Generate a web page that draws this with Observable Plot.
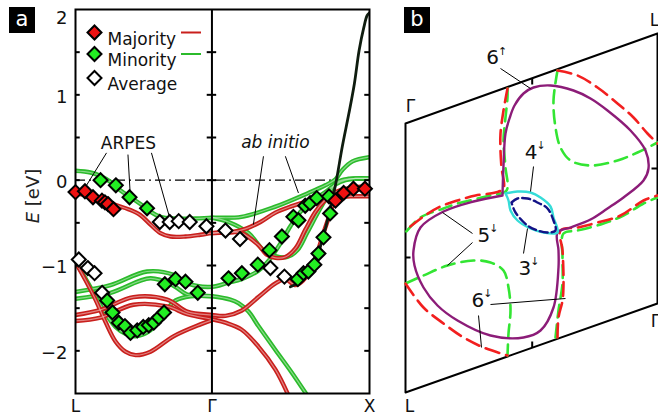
<!DOCTYPE html>
<html><head><meta charset="utf-8">
<script src="https://cdn.jsdelivr.net/npm/d3@7"></script>
<script src="https://cdn.jsdelivr.net/npm/@observablehq/plot@0.6"></script>
<style>
html,body{margin:0;padding:0;background:#fff;overflow:hidden}
#wrap{position:relative;width:658px;height:412px;overflow:hidden;font-family:"DejaVu Sans",sans-serif}
#pa,#pb{position:absolute;top:0}
#pa{left:0}
#pb{left:390px}
.tag{position:absolute;background:#000;color:#fff;font-size:21px;line-height:25px;width:26px;height:26px;text-align:center}
#ylab{position:absolute;left:32px;top:196px;transform:translate(-50%,-50%) rotate(-90deg);font-size:18px;white-space:nowrap;color:#222}
</style></head>
<body><div id="wrap"><div id="pa"></div><div id="pb"></div>
<div class="tag" style="left:9px;top:7px">a</div>
<div class="tag" style="left:404px;top:7px">b</div>
<div id="ylab"><i>E</i> [eV]</div>
</div>
<script>
// ---------- panel a : band structure ----------
const kTicks = [0, 0.866, 1.866];
const kTickLabels = ["L", "Γ", "X"];
const kGamma = 0.866;
const energyTicks = [-2, -1, 0, 1];
const energyTopTick = [2];
const energyMinorTicks = [-2, -1.5, -1, -0.5, 0, 0.5, 1, 1.5];

const majorityBand1 = [[0,-0.15],[0.095,-0.19],[0.222,-0.27],[0.349,-0.35],[0.412,-0.41],[0.476,-0.52],[0.539,-0.62],[0.603,-0.66],[0.698,-0.66],[0.793,-0.64],[0.866,-0.62],[0.983,-0.61],[1.079,-0.57],[1.174,-0.49],[1.269,-0.38],[1.364,-0.31],[1.491,-0.24],[1.618,-0.20],[1.745,-0.19],[1.866,-0.19]];
const majorityBand2 = [[0.866,-0.62],[0.983,-0.61],[1.053,-0.62],[1.161,-0.76],[1.212,-0.87],[1.269,-0.91],[1.332,-0.90],[1.396,-0.80],[1.459,-0.58],[1.523,-0.37],[1.586,-0.23],[1.650,-0.14],[1.745,-0.09],[1.866,-0.07]];
const majorityBand3 = [[0,-1.58],[0.159,-1.52],[0.368,-1.37],[0.582,-1.40],[0.709,-1.54],[0.866,-1.58],[0.952,-1.59],[1.053,-1.53],[1.161,-1.37],[1.269,-1.21],[1.332,-1.16],[1.396,-1.23],[1.447,-1.17],[1.491,-1.05],[1.530,-0.88],[1.567,-0.66],[1.605,-0.45],[1.643,-0.25],[1.694,-0.14],[1.770,-0.11],[1.866,-0.10]];
const majorityBand4 = [[0,-1.65],[0.159,-1.61],[0.368,-1.46],[0.582,-1.48],[0.709,-1.57],[0.866,-1.63],[0.952,-1.67],[1.053,-1.75],[1.161,-1.95],[1.269,-2.22],[1.351,-2.52]];
const majorityBand5 = [[0,-0.96],[0.063,-1.17],[0.127,-1.40],[0.190,-1.66],[0.254,-1.89],[0.317,-2.01],[0.381,-2.05],[0.476,-2.01],[0.622,-1.83],[0.793,-1.69],[0.866,-1.64]];

const minorityBand1 = [[0,0.11],[0.095,0.09],[0.159,0.05],[0.222,-0.02],[0.286,-0.12],[0.349,-0.20],[0.412,-0.28],[0.476,-0.37],[0.539,-0.43],[0.635,-0.45],[0.761,-0.45],[0.866,-0.44],[1.053,-0.43],[1.269,-0.31],[1.478,-0.15],[1.586,-0.06],[1.650,0.01],[1.694,0.12],[1.758,0.22],[1.866,0.27]];
const minorityBand2 = [[0.866,-0.44],[0.971,-0.49],[1.098,-0.62],[1.193,-0.82],[1.269,-0.89],[1.345,-0.90],[1.409,-0.82],[1.472,-0.61],[1.542,-0.37],[1.605,-0.17],[1.656,-0.03],[1.713,0.01],[1.777,0.02],[1.866,0.02]];
const minorityBand3 = [[0,-1.31],[0.222,-1.23],[0.454,-1.07],[0.624,-1.11],[0.709,-1.21],[0.866,-1.25],[0.971,-1.20],[1.053,-1.16],[1.161,-1.06],[1.231,-0.93],[1.301,-0.74],[1.364,-0.54],[1.428,-0.37],[1.504,-0.24],[1.586,-0.14],[1.650,-0.05],[1.713,0.00],[1.777,0.02],[1.866,0.02]];
const minorityBand4 = [[0,-1.39],[0.222,-1.32],[0.476,-1.15],[0.624,-1.24],[0.709,-1.34],[0.866,-1.36],[0.983,-1.40],[1.034,-1.44],[1.098,-1.54],[1.161,-1.71],[1.269,-1.99],[1.371,-2.25],[1.470,-2.52]];
const minorityBand5 = [[0,-0.96],[0.063,-1.15],[0.127,-1.36],[0.190,-1.56],[0.254,-1.72],[0.317,-1.80],[0.381,-1.83],[0.476,-1.76],[0.558,-1.57],[0.635,-1.41],[0.730,-1.36],[0.866,-1.36]];

const spBand = [[1.364,-1.25],[1.415,-1.20],[1.459,-1.12],[1.504,-0.99],[1.542,-0.84],[1.580,-0.61],[1.612,-0.37],[1.637,-0.17],[1.656,0.00],[1.694,0.40],[1.735,0.78],[1.770,1.13],[1.800,1.52],[1.830,1.79],[1.851,1.93],[1.866,1.96]];

const majorityPoints = [[0,-0.14],[0.060,-0.13],[0.111,-0.20],[0.168,-0.24],[0.187,-0.26],[0.206,-0.28],[0.241,-0.34],[1.650,-0.24],[1.702,-0.15],[1.764,-0.10],[1.837,-0.10]];
const minorityPoints = [[0.159,0.00],[0.256,-0.06],[0.343,-0.20],[0.454,-0.33],
  [0.201,-1.41],[0.235,-1.55],[0.275,-1.67],[0.314,-1.71],[0.349,-1.79],[0.392,-1.76],[0.430,-1.72],[0.465,-1.70],[0.497,-1.67],[0.529,-1.61],[0.562,-1.55],
  [0.567,-1.22],[0.635,-1.16],[0.698,-1.19],[0.776,-1.32],
  [0.971,-1.15],[1.056,-1.09],[1.157,-0.99],[1.231,-0.82],[1.310,-0.66],[1.383,-0.43],[1.415,-0.47],[1.458,-0.30],[1.489,-0.27],[1.531,-0.21],[1.609,-0.19],
  [1.411,-1.16],[1.447,-1.09],[1.478,-1.07],[1.516,-0.99],[1.542,-0.86],[1.574,-0.67],[1.616,-0.39]];
const averagePoints = [[0.021,-0.93],[0.078,-1.03],[0.121,-1.09],[0.169,-1.32],[0.535,-0.49],[0.598,-0.49],[0.655,-0.48],[0.725,-0.49],[0.831,-0.54],[0.952,-0.59],[1.044,-0.69],[1.237,-1.03],[1.326,-1.13]];

const legendLabels = ["Majority", "Minority", "Average"];

const arpesLabel = [{k: 0.336, E: 0.43, text: "ARPES"}];
const arpesLeaders = [[0.197,0.32,0.070,-0.06],[0.333,0.30,0.346,-0.12],[0.482,0.32,0.596,-0.43]];
const abInitioLabel = [{k: 1.269, E: 0.44, text: "ab initio"}];
const abInitioLeaders = [[1.193,0.28,1.129,-0.52],[1.332,0.28,1.415,-0.15]];

// ---------- panel b : Fermi surface cut ----------
const sheetFrame = [[0,0],[2.52,0.90],[2.52,-1.80],[0,-2.69],[0,0]];
const sheetTicks = [[1.267,0.45,1.267,0.39],[1.267,-2.24,1.267,-2.18],[0,-1.34,0.05,-1.34],[2.52,-0.45,2.46,-0.45]];
const majorityDashed = [
  [[1.02,0.35],[0.98,0.13],[0.95,-0.10],[0.95,-0.27],[0.96,-0.44],[0.98,-0.65],[0.90,-0.69],[0.70,-0.72],[0.52,-0.77],[0.35,-0.83],[0.18,-0.93],[0,-1.07]],
  [[1.52,0.53],[1.72,0.48],[1.92,0.36],[2.12,0.20],[2.28,0.06],[2.42,-0.10],[2.52,-0.20]],
  [[0,-1.60],[0.18,-1.84],[0.38,-2.00],[0.58,-2.14],[0.78,-2.24],[1.02,-2.32]],
  [[1.52,-2.14],[1.53,-1.94],[1.57,-1.77],[1.58,-1.60],[1.57,-1.27],[1.55,-1.07],[1.72,-1.04],[1.92,-0.99],[2.15,-0.92],[2.38,-0.77],[2.52,-0.72]]
];
const minorityDashed = [
  [[1.02,0.35],[1.02,0.26],[1.00,0.06],[0.98,-0.17],[1.00,-0.44],[1.01,-0.67],[0.85,-0.72],[0.52,-0.80],[0.38,-0.85],[0.15,-0.94],[0,-1.09]],
  [[1.52,0.53],[1.48,0.23],[1.50,-0.04],[1.55,-0.24],[1.65,-0.37],[1.85,-0.42],[2.12,-0.37],[2.32,-0.29],[2.52,-0.19]],
  [[0,-1.60],[0.18,-1.52],[0.42,-1.42],[0.68,-1.37],[0.85,-1.39],[0.98,-1.47],[1.03,-1.64],[1.05,-1.87],[1.03,-2.10],[1.02,-2.32]],
  [[1.50,-2.14],[1.53,-1.87],[1.57,-1.60],[1.57,-1.34],[1.58,-1.10],[1.72,-1.07],[1.98,-1.00],[2.18,-0.92],[2.38,-0.80],[2.52,-0.74]]
];
const sheet6 = [[0.97,-0.72],[0.98,-0.42],[1.00,-0.10],[1.04,0.05],[1.09,0.18],[1.18,0.30],[1.28,0.36],[1.45,0.38],[1.68,0.33],[1.85,0.25],[2.02,0.13],[2.25,-0.07],[2.40,-0.27],[2.43,-0.45],[2.38,-0.57],[2.18,-0.74],[2.02,-0.85],[1.85,-0.96],[1.65,-1.04],[1.52,-1.09],
  [1.53,-1.27],[1.53,-1.44],[1.48,-1.84],[1.35,-2.07],[1.18,-2.14],[0.85,-2.12],[0.52,-1.97],[0.32,-1.82],[0.18,-1.64],[0.09,-1.42],[0.08,-1.27],[0.15,-1.04],[0.38,-0.88],[0.68,-0.78],[0.97,-0.72]];
const sheet4 = [[1.00,-0.70],[1.12,-0.68],[1.25,-0.69],[1.35,-0.74],[1.45,-0.83],[1.48,-0.94],[1.52,-1.09],[1.38,-1.09],[1.25,-1.05],[1.12,-0.97],[1.05,-0.87],[1.03,-0.77],[1.00,-0.70]];
const sheet3 = [[1.06,-0.79],[1.12,-0.75],[1.22,-0.75],[1.32,-0.79],[1.42,-0.85],[1.48,-0.97],[1.50,-1.07],[1.42,-1.09],[1.32,-1.07],[1.22,-1.02],[1.10,-0.89],[1.06,-0.79]];
const sheetLabels = [
  {x: 0.87, y: 0.655, num: "6", spin: "↑"},
  {x: 1.257, y: -0.287, num: "4", spin: "↓"},
  {x: 0.783, y: -1.12, num: "5", spin: "↓"},
  {x: 1.193, y: -1.453, num: "3", spin: "↓"},
  {x: 0.723, y: -1.77, num: "6", spin: "↓"}
];
const sheetLeaders = [[0.95,0.55,1.25,0.35],[1.28,-0.43,1.25,-0.68],[0.67,-1.10,0.37,-0.89],[0.67,-1.19,0.42,-1.42],[1.18,-1.30,1.22,-1.05],[0.85,-1.81,1.60,-1.75],[0.73,-1.92,0.76,-2.24]];
const cornerLabels = [{x: 0.05, y: 0.17, text: "Γ"}, {x: 2.49, y: 1.03, text: "L"}, {x: 2.50, y: -1.98, text: "Γ"}, {x: 0.04, y: -2.83, text: "L"}];

// ---------- colours ----------
const redBand = "#c91f1c", greenBand = "#2bbb2b", spColor = "#0f1c0f";
const redFill = "#ee1111", greenFill = "#22ee22";

const rows = (bands) => bands.flatMap((b, i) => b.map(([x, y]) => ({x, y, id: i})));
const majorityRows = rows([majorityBand1, majorityBand2, majorityBand3, majorityBand4, majorityBand5]);
const minorityRows = rows([minorityBand1, minorityBand2, minorityBand3, minorityBand4, minorityBand5]);
const spRows = rows([spBand]);

const tube = (data, color) => [
  Plot.line(data, {x: "x", y: "y", z: "id", stroke: color, strokeWidth: 4.4, curve: "catmull-rom", clip: true}),
  Plot.line(data, {x: "x", y: "y", z: "id", stroke: "white", strokeOpacity: 0.45, strokeWidth: 1.2, curve: "catmull-rom", clip: true})
];
const hline = {draw(ctx, size) { const r = Math.sqrt(size / Math.PI); ctx.moveTo(-r, 0); ctx.lineTo(r, 0); }};
const diamond = (pts, fill) => Plot.dot(pts, {x: d => d[0], y: d => d[1], symbol: "diamond2", r: 6.3, fill, stroke: "black", strokeWidth: 2});
const tickSets = [[0, 0.03], [kGamma - 0.03, kGamma], [kGamma, kGamma + 0.03], [1.836, 1.866]];
const legendFill = [redFill, greenFill, "white"];
const legendLine = [redBand, greenBand, null];
const legendDy = [23, 44.5, 68.5];

const plotA = Plot.plot({
  width: 390, height: 412,
  marginLeft: 75, marginRight: 21, marginTop: 9, marginBottom: 19,
  x: {domain: [0, 1.866]},
  y: {domain: [-2.5, 2.0]},
  style: {fontFamily: "DejaVu Sans", background: "transparent", color: "#111", overflow: "visible"},
  marks: [
    Plot.ruleY([0], {stroke: "black", strokeWidth: 1.2, strokeDasharray: "10,4,2,4"}),
    ...tube(minorityRows, greenBand),
    ...tube(majorityRows, redBand),
    Plot.line(spRows, {x: "x", y: "y", z: "id", stroke: spColor, strokeWidth: 2.8, curve: "catmull-rom", clip: true}),
    Plot.ruleX([kGamma], {stroke: "black", strokeWidth: 2}),
    Plot.frame({stroke: "black", strokeWidth: 2}),
    ...tickSets.map(([a, b]) => Plot.ruleY(energyMinorTicks, {x1: a, x2: b, stroke: "black", strokeWidth: 2})),
    Plot.axisY({ticks: energyTicks, tickFormat: "d", tickSize: 0, tickPadding: 8, dy: 2, fontSize: 18, label: null}),
    Plot.axisY({ticks: energyTopTick, tickFormat: "d", tickSize: 0, tickPadding: 8, dy: 9, fontSize: 18, label: null}),
    Plot.axisX({ticks: kTicks, tickFormat: d => kTickLabels[kTicks.indexOf(d)], tickSize: 0, tickPadding: 6, fontSize: 17, label: null}),
    Plot.link([...arpesLeaders, ...abInitioLeaders], {x1: d => d[0], y1: d => d[1], x2: d => d[2], y2: d => d[3], stroke: "black", strokeWidth: 1}),
    Plot.text(arpesLabel, {x: "k", y: "E", text: "text", fontSize: 17, fill: "#111"}),
    Plot.text(abInitioLabel, {x: "k", y: "E", text: "text", fontSize: 17, fontStyle: "italic", fill: "#111"}),
    diamond(averagePoints, "white"),
    diamond(minorityPoints, greenFill),
    diamond(majorityPoints, redFill),
    ...legendLabels.flatMap((lab, i) => [
      Plot.dot([lab], {frameAnchor: "top-left", dx: 19, dy: legendDy[i], symbol: "diamond2", r: 6.3, fill: legendFill[i], stroke: "black", strokeWidth: 2}),
      Plot.text([lab], {frameAnchor: "top-left", dx: 32, dy: legendDy[i], text: d => d, textAnchor: "start", fontSize: 17, fill: "#111"}),
      ...(legendLine[i] ? [Plot.dot([lab], {frameAnchor: "top-left", dx: 115.5, dy: legendDy[i], symbol: hline, r: 10, stroke: legendLine[i], strokeWidth: 2, fill: "none"})] : [])
    ])
  ]
});
document.getElementById("pa").appendChild(plotA);

const segRows = (segs) => segs.flatMap((s, i) => s.map(([x, y]) => ({x, y, id: i})));
const plotB = Plot.plot({
  width: 268, height: 412, margin: 0,
  x: {domain: [-0.15, 2.53], axis: null},
  y: {domain: [-2.89, 1.23], axis: null},
  style: {fontFamily: "DejaVu Sans", background: "transparent", color: "#111", overflow: "visible"},
  marks: [
    Plot.line(sheetFrame, {x: d => d[0], y: d => d[1], stroke: "black", strokeWidth: 2}),
    Plot.link(sheetTicks, {x1: d => d[0], y1: d => d[1], x2: d => d[2], y2: d => d[3], stroke: "black", strokeWidth: 2}),
    Plot.line(segRows(minorityDashed), {x: "x", y: "y", z: "id", stroke: "#33e533", strokeWidth: 2.6, strokeDasharray: "13,7", curve: "catmull-rom"}),
    Plot.line(segRows(majorityDashed), {x: "x", y: "y", z: "id", stroke: "#f21f1f", strokeWidth: 2.6, strokeDasharray: "14,7", curve: "catmull-rom"}),
    Plot.line(sheet6, {x: d => d[0], y: d => d[1], stroke: "#8c1c78", strokeWidth: 2.4, curve: "catmull-rom"}),
    Plot.line(sheet4, {x: d => d[0], y: d => d[1], stroke: "#35dcd8", strokeWidth: 2.4, curve: "catmull-rom"}),
    Plot.line(sheet3, {x: d => d[0], y: d => d[1], stroke: "#121286", strokeWidth: 2.4, strokeDasharray: "8,4", curve: "catmull-rom"}),
    Plot.link(sheetLeaders, {x1: d => d[0], y1: d => d[1], x2: d => d[2], y2: d => d[3], stroke: "black", strokeWidth: 1}),
    Plot.text(sheetLabels, {x: "x", y: "y", text: "num", fontSize: 20, fill: "#111"}),
    Plot.text(sheetLabels, {x: "x", y: "y", text: "spin", fontSize: 11, dx: 10, dy: -7, fill: "#111"}),
    Plot.text(cornerLabels, {x: "x", y: "y", text: "text", fontSize: 17, fill: "#111"})
  ]
});
document.getElementById("pb").appendChild(plotB);
</script>
</body></html>
